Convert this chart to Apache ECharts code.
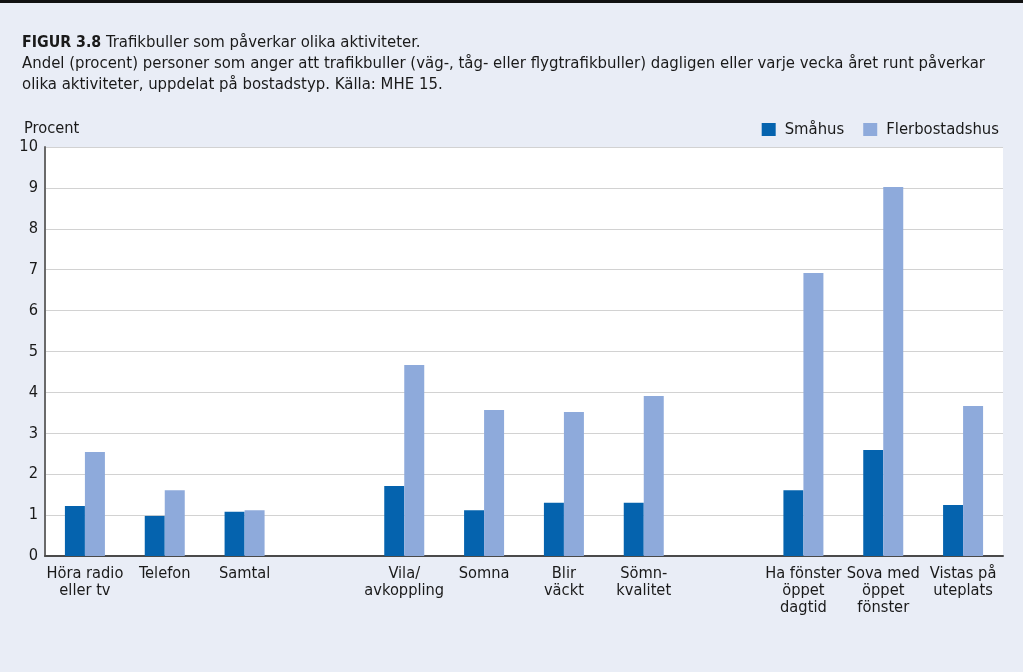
<!DOCTYPE html>
<html>
<head>
<meta charset="utf-8">
<script src="https://cdn.jsdelivr.net/npm/echarts@6/dist/echarts.min.js"></script>
<style>
html,body{margin:0;padding:0;background:#e9edf6;}
#chart{width:1023px;height:672px;}
</style>
</head>
<body>
<div id="chart"></div>
<script>
const categories = ['Höra radio\neller tv','Telefon','Samtal','','Vila/\navkoppling','Somna','Blir\nväckt','Sömn-\nkvalitet','','Ha fönster\nöppet\ndagtid','Sova med\nöppet\nfönster','Vistas på\nuteplats'];
const seriesNames = ['Småhus','Flerbostadshus'];
const smahus = [1.22,0.98,1.08,null,1.71,1.12,1.30,1.30,null,1.61,2.59,1.25];
const flerbostadshus = [2.54,1.61,1.12,null,4.67,3.57,3.52,3.91,null,6.92,9.02,3.67];
const yTicks = [0,1,2,3,4,5,6,7,8,9,10];

const FONT = "'Liberation Sans Narrow','DejaVu Sans Condensed','Liberation Sans',sans-serif";
const chart = echarts.init(document.getElementById('chart'));
chart.setOption({
  backgroundColor: '#e9edf6',
  animation: false,
  textStyle: {fontFamily: FONT},
  graphic: [{type:'rect', shape:{x:0,y:0,width:1023,height:3}, style:{fill:'#111'}}],
  title: {
    left: 22, top: 32, padding: 0,
    text: '{b|FIGUR 3.8} Trafikbuller som påverkar olika aktiviteter.\nAndel (procent) personer som anger att trafikbuller (väg-, tåg- eller flygtrafikbuller) dagligen eller varje vecka året runt påverkar\nolika aktiviteter, uppdelat på bostadstyp. Källa: MHE 15.',
    textStyle: {
      fontFamily: FONT, fontSize: 16.6, fontWeight: 'normal', color: '#1a1a1a', lineHeight: 21,
      rich: {b: {fontFamily: FONT, fontSize: 15.8, fontWeight: 'bold', color: '#1a1a1a', lineHeight: 21}}
    }
  },
  legend: {
    right: 19, top: 116,
    itemWidth: 14, itemHeight: 13, itemGap: 19,
    icon: 'rect',
    textStyle: {fontFamily: FONT, fontSize: 16.5, color: '#1a1a1a', padding: [0,0,0,4]},
    data: seriesNames
  },
  grid: {left: 45, right: 20, top: 147, bottom: 116, show: true, backgroundColor: '#ffffff', borderWidth: 0},
  xAxis: {
    type: 'category',
    data: categories,
    axisLine: {lineStyle: {color: '#4a4a4a', width: 2}},
    axisTick: {show: false},
    axisLabel: {interval: 0, fontFamily: FONT, fontSize: 16.3, color: '#1a1a1a', lineHeight: 17, margin: 9}
  },
  yAxis: {
    type: 'value', min: yTicks[0], max: yTicks[yTicks.length-1], interval: 1,
    name: 'Procent',
    nameLocation: 'end',
    nameGap: 10,
    nameTextStyle: {fontFamily: FONT, fontSize: 16.3, color: '#1a1a1a', align: 'left', padding: [0,0,0,-21]},
    axisLine: {show: true, lineStyle: {color: '#6a6a6a', width: 2}},
    axisTick: {show: false},
    axisLabel: {fontFamily: FONT, fontSize: 16.3, color: '#1a1a1a', margin: 7},
    splitLine: {lineStyle: {color: '#d2d2d2', width: 1}}
  },
  series: [
    {name: seriesNames[0], type: 'bar', data: smahus, barWidth: 20, barGap: '0%', itemStyle: {color: '#0563ae'}},
    {name: seriesNames[1], type: 'bar', data: flerbostadshus, barWidth: 20, barGap: '0%', itemStyle: {color: '#8eaadb'}}
  ]
});
</script>
</body>
</html>
